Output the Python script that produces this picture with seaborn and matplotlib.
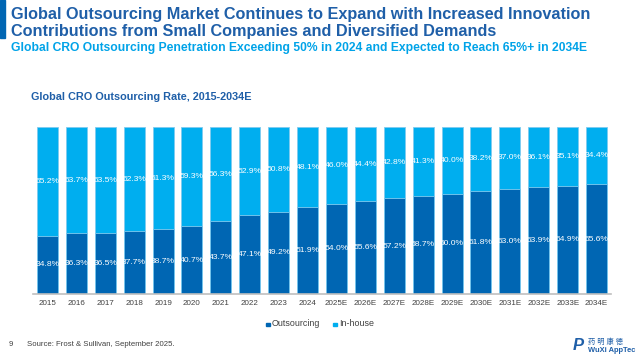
import matplotlib.pyplot as plt
import pandas as pd
import seaborn as sns
from matplotlib.patches import Rectangle

years = ["2015", "2016", "2017", "2018", "2019", "2020", "2021", "2022", "2023", "2024",
         "2025E", "2026E", "2027E", "2028E", "2029E", "2030E", "2031E", "2032E", "2033E", "2034E"]
outsourcing = [34.8, 36.3, 36.5, 37.7, 38.7, 40.7, 43.7, 47.1, 49.2, 51.9,
               54.0, 55.6, 57.2, 58.7, 60.0, 61.8, 63.0, 63.9, 64.9, 65.6]
inhouse = [65.2, 63.7, 63.5, 62.3, 61.3, 59.3, 56.3, 52.9, 50.8, 48.1,
           46.0, 44.4, 42.8, 41.3, 40.0, 38.2, 37.0, 36.1, 35.1, 34.4]

dark = "#0066B3"
light = "#00AEEF"
title_blue = "#1F5FA8"

df = pd.DataFrame({"year": years, "outsourcing": outsourcing, "inhouse": inhouse})
df["total"] = df["outsourcing"] + df["inhouse"]

sns.set_style("white")
plt.rcParams["font.family"] = ["Liberation Sans", "Noto Sans CJK SC", "DejaVu Sans"]

fig = plt.figure(figsize=(6.37, 3.59), dpi=100)
W, H = 637, 359
ax = fig.add_axes([33 / W, 1 - 294 / H, (611 - 33) / W, (294 - 127) / H])

# stacked: draw full (100%) bar in light blue, outsourcing over it in dark blue
sns.barplot(data=df, x="year", y="total", color=light, width=0.73, saturation=1,
            edgecolor="#7FCBF0", linewidth=0.6, ax=ax)
sns.barplot(data=df, x="year", y="outsourcing", color=dark, width=0.73, saturation=1,
            edgecolor="#7FCBF0", linewidth=0.6, ax=ax)

n = len(years)
top_bars = ax.patches[:n]
bot_bars = ax.patches[n:]
for b, v in zip(bot_bars, outsourcing):
    ax.text(b.get_x() + b.get_width() / 2, v / 2, f"{v:.1f}%", ha="center", va="center",
            color="white", fontsize=6.1)
for b, o, v in zip(top_bars, outsourcing, inhouse):
    ax.text(b.get_x() + b.get_width() / 2, o + v / 2, f"{v:.1f}%", ha="center", va="center",
            color="white", fontsize=6.1)

ax.set_ylim(0, 100)
ax.set_xlim(-0.5, n - 0.5)
ax.set_xlabel("")
ax.set_ylabel("")
ax.set_yticks([])
for s in ["top", "right", "left"]:
    ax.spines[s].set_visible(False)
ax.spines["bottom"].set_color("#BFBFBF")
ax.spines["bottom"].set_linewidth(1.2)
ax.tick_params(axis="x", length=0, labelsize=5.8, labelcolor="#404040", pad=4)

# legend
fig.patches.append(Rectangle((266 / W, 1 - 326 / H), 3.5 / W, 3.5 / H, color=dark,
                             transform=fig.transFigure))
fig.text(272 / W, 1 - 323.5 / H, "Outsourcing", fontsize=6.4, color="#404040", va="center")
fig.patches.append(Rectangle((333 / W, 1 - 326 / H), 3.5 / W, 3.5 / H, color=light,
                             transform=fig.transFigure))
fig.text(339 / W, 1 - 323.5 / H, "In-house", fontsize=6.4, color="#404040", va="center")

# titles
fig.patches.append(Rectangle((0, 1 - 38 / H), 4.5 / W, 38 / H, color=dark,
                             transform=fig.transFigure))
fig.text(11 / W, 1 - 14 / H, "Global Outsourcing Market Continues to Expand with Increased Innovation",
         fontsize=11.7, fontweight="bold", color=title_blue, va="center")
fig.text(11 / W, 1 - 31.5 / H, "Contributions from Small Companies and Diversified Demands",
         fontsize=11.7, fontweight="bold", color=title_blue, va="center")
fig.text(11 / W, 1 - 48 / H, "Global CRO Outsourcing Penetration Exceeding 50% in 2024 and Expected to Reach 65%+ in 2034E",
         fontsize=8.7, fontweight="bold", color="#00A3E8", va="center")
fig.text(31 / W, 1 - 97 / H, "Global CRO Outsourcing Rate, 2015-2034E",
         fontsize=7.8, fontweight="bold", color=title_blue, va="center")

# footer
fig.text(9 / W, 1 - 345 / H, "9", fontsize=5.6, color="#404040", va="center")
fig.text(27 / W, 1 - 345 / H, "Source: Frost & Sullivan, September 2025.", fontsize=5.6,
         color="#404040", va="center")
fig.text(588 / W, 1 - 342 / H, "药 明 康 德", fontsize=5.2, color=title_blue, va="center", ha="left")
fig.text(588 / W, 1 - 350.5 / H, "WuXi AppTec", fontsize=5.4, fontweight="bold", color=title_blue,
         va="center", ha="left")
fig.text(573 / W, 1 - 346 / H, "P", fontsize=12, fontweight="bold", color=title_blue,
         va="center", ha="left", style="italic")

fig.savefig("out.png", dpi=100, facecolor="white")
